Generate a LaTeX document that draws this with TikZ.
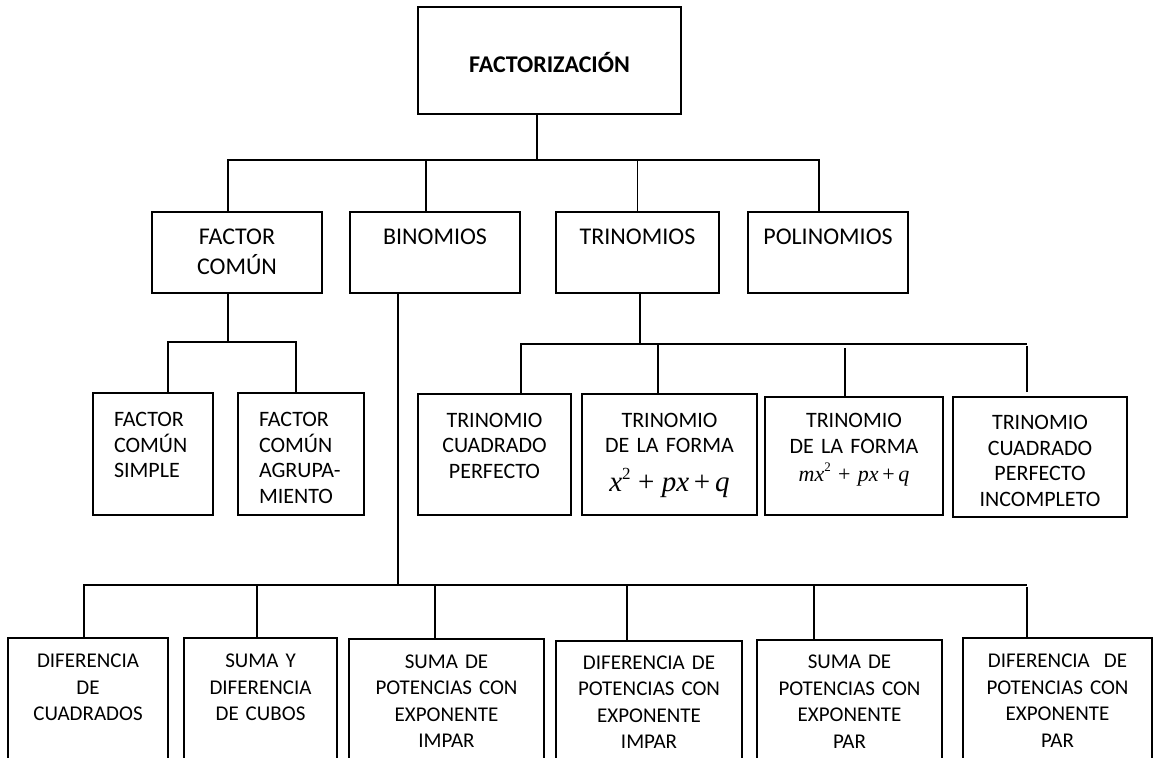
\documentclass[tikz,border=0pt]{standalone}
\usepackage{fontspec}
\setmainfont{Carlito}
\newfontfamily\formfont{Liberation Serif}
\newcommand{\forma}[2]{{\formfont\fontsize{#1}{#1}\selectfont #2}}
\newcommand{\sqr}[1]{\raisebox{.42em}{\fontsize{#1}{#1}\selectfont 2}}
\newcommand{\topstrut}[1]{\vrule width 0pt height \dimexpr0.7\baselineskip+#1\relax depth 0pt}
\tikzset{
  link/.style={line width=0.9pt,draw=black},
  box/.style={draw,line width=0.9pt,align=center,inner sep=0pt,execute at end node=\strut},
  headbox/.style={box,font=\fontsize{12}{15}\selectfont\bfseries,execute at begin node={\topstrut{6pt}}},
  catbox/.style={box,font=\fontsize{12}{15}\selectfont,execute at begin node={\topstrut{1pt}}},
  subbox/.style={box,font=\fontsize{11}{12.75}\selectfont,execute at begin node={\topstrut{6pt}}},
  formbox/.style={box,font=\fontsize{11}{12.75}\selectfont,execute at begin node={\topstrut{0pt}}},
  leftbox/.style={subbox,align=left,inner xsep=10.5pt},
  leafbox/.style={box,font=\fontsize{10.5}{13.25}\selectfont,execute at begin node={\topstrut{-1pt}}},
}

\begin{document}
\begin{tikzpicture}[x=0.5pt,y=-0.5pt]
\clip (0,0) rectangle (1154,758);

% root
\node[headbox,text width=131.5pt,minimum height=53.5pt] (fact) at (549.5,60.5) {FACTORIZACIÓN};

% first level
\node[catbox,text width=85pt,minimum height=40.5pt] (fcomun) at (237,252.5) {FACTOR\\COMÚN};
\node[catbox,text width=85pt,minimum height=40.5pt] (binom) at (435,252.5) {BINOMIOS\\};
\node[catbox,text width=81.5pt,minimum height=40.5pt] (trinom) at (637.5,252.5) {TRINOMIOS\\};
\node[catbox,text width=80pt,minimum height=40.5pt] (polinom) at (828,252.5) {POLINOMIOS\\};

% factor comun
\node[leftbox,text width=39pt,minimum height=61pt] (fcsimple) at (153,454) {FACTOR\\COMÚN\\SIMPLE\\[-4.5pt]};
\node[leftbox,text width=42pt,minimum height=61pt] (fcagrup) at (301,454) {FACTOR\\COMÚN\\AGRUPA-\\MIENTO};

% trinomios
\node[subbox,text width=76.5pt,minimum height=60.5pt] (tcp) at (494.5,454.5) {TRINOMIO\\CUADRADO\\PERFECTO\\[-4.5pt]};
\node[formbox,text width=87.5pt,minimum height=60.5pt] (tfx) at (669.5,454.5)
  {TRINOMIO\\DE LA FORMA\\[6.75pt]\forma{14.5}{\textit{x}\sqr{8.5} + \textit{px}\,+\,\textit{q}}};
\node[subbox,text width=89pt,minimum height=59pt] (tfmx) at (854,456)
  {TRINOMIO\\DE LA FORMA\\[1.25pt]\forma{11}{\textit{mx}\sqr{6.5} + \textit{px}\,+\,\textit{q}}\\[-6.6pt]};
\node[subbox,text width=87pt,minimum height=60pt] (tcpi) at (1040,457) {TRINOMIO\\CUADRADO\\PERFECTO\\INCOMPLETO};

% binomios
\node[leafbox,text width=80pt,minimum height=65pt] (dcuad) at (88,703) {DIFERENCIA\\DE\\CUADRADOS\\};
\node[leafbox,text width=76.5pt,minimum height=65pt] (sdcub) at (260.5,703) {SUMA Y\\DIFERENCIA\\DE CUBOS\\};
\node[leafbox,text width=97.5pt,minimum height=64.5pt] (spimp) at (446.5,703.5) {SUMA DE\\POTENCIAS CON\\EXPONENTE\\IMPAR};
\node[leafbox,text width=93pt,minimum height=63.5pt] (dpimp) at (649,704.5) {DIFERENCIA DE\\POTENCIAS CON\\EXPONENTE\\IMPAR};
\node[leafbox,text width=92.5pt,minimum height=64pt] (sppar) at (849.5,704) {SUMA DE\\POTENCIAS CON\\EXPONENTE\\PAR};
\node[leafbox,text width=94.5pt,minimum height=65pt] (dppar) at (1057.5,703) {DIFERENCIA~ DE\\POTENCIAS CON\\EXPONENTE\\PAR};

% bus lines
\coordinate (bus1) at (537,160);
\coordinate (bus2) at (228,342);
\coordinate (bus3) at (640,344);
\coordinate (bus3e) at (1027,344);
\coordinate (bus4) at (398,585);
\coordinate (bus4e) at (1027,585);

\draw[link] ([xshift=-6.25pt]fact.south) -- (bus1);
\draw[link] ([xshift=-4.5pt]fcomun.north) |- (bus1) -| ([xshift=-4.5pt]polinom.north);
\draw[link] ([xshift=-4.5pt]binom.north) -- ([xshift=-4.5pt]binom.north |- bus1);
\draw[link] (trinom.north) -- (trinom.north |- bus1);

\draw[link] ([xshift=-4.5pt]fcomun.south) -- (bus2);
\draw[link] ([xshift=7.5pt]fcsimple.north) |- (bus2) -| ([xshift=-2.5pt]fcagrup.north);

\draw[link] ([xshift=1.25pt]trinom.south) -- (bus3);
\draw[link] ([xshift=13.25pt]tcp.north) |- (bus3e);
\draw[link] ([xshift=-5.75pt]tfx.north) -- ([xshift=-5.75pt]tfx.north |- bus3);
\draw[link] ([xshift=-4.5pt]tfmx.north) -- ([xshift=-4.5pt,yshift=-2pt]tfmx.north |- bus3);
\draw[link] ([xshift=-6.5pt,yshift=2pt]tcpi.north) -- ([xshift=-6.5pt,yshift=-1pt]tcpi.north |- bus3);

\draw[link] ([xshift=-18.5pt]binom.south) -- (bus4);
\draw[link] ([xshift=-2pt]dcuad.north) |- (bus4e);
\draw[link] ([xshift=-1.75pt]sdcub.north) -- ([xshift=-1.75pt]sdcub.north |- bus4);
\draw[link] ([xshift=-5.75pt]spimp.north) -- ([xshift=-5.75pt]spimp.north |- bus4);
\draw[link] ([xshift=-11pt]dpimp.north) -- ([xshift=-11pt]dpimp.north |- bus4);
\draw[link] ([xshift=-17.75pt]sppar.north) -- ([xshift=-17.75pt]sppar.north |- bus4);
\draw[link] ([xshift=-15.25pt]dppar.north) -- ([xshift=-15.25pt,yshift=-1pt]dppar.north |- bus4);

\end{tikzpicture}
\end{document}
